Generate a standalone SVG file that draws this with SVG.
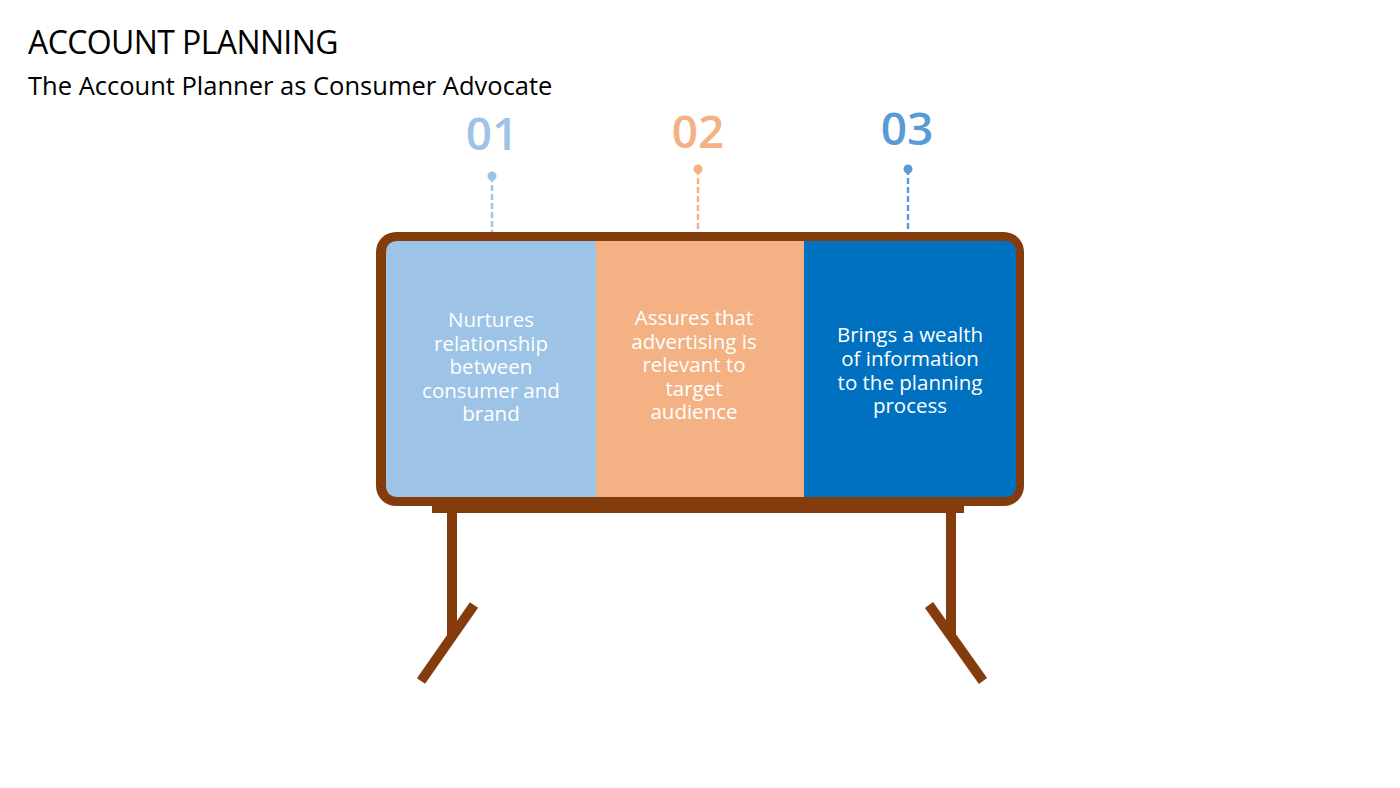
<svg xmlns="http://www.w3.org/2000/svg" width="1400" height="788" viewBox="0 0 1400 788">
<style>
text{font-family:"Open Sans","Liberation Sans",sans-serif}
.num{font-size:46px;font-weight:600;text-anchor:middle}
.body{font-size:20.5px;fill:#fff;text-anchor:middle}
.leg{stroke:#843C0C;stroke-width:10;fill:none}
</style>
<rect width="1400" height="788" fill="#fff"/>
<text x="28" y="54" font-size="32" fill="#000" letter-spacing="-0.6">ACCOUNT PLANNING</text>
<text x="28" y="95" font-size="25.5" fill="#000">The Account Planner as Consumer Advocate</text>
<g id="stand">
<rect x="432" y="498" width="532" height="15" fill="#843C0C"/>
<line class="leg" x1="452" y1="505" x2="452" y2="638"/>
<line class="leg" x1="474" y1="605" x2="421" y2="681"/>
<line class="leg" x1="951" y1="505" x2="951" y2="638"/>
<line class="leg" x1="929" y1="605" x2="983" y2="681"/>
<rect x="376" y="232" width="648" height="274" rx="20" fill="#843C0C"/>
</g>
<g id="node1">
<path d="M398 241H596V497H398Q386 497 386 485V253Q386 241 398 241Z" fill="#9DC3E6"/>
<text class="body"><tspan x="491" y="327">Nurtures</tspan><tspan x="491" y="351">relationship</tspan><tspan x="491" y="374">between</tspan><tspan x="491" y="398">consumer and</tspan><tspan x="491" y="421">brand</tspan></text>
<text class="num" x="492" y="150" fill="#9DC3E6">01</text>
</g>
<g id="node2">
<rect x="596" y="241" width="208" height="256" fill="#F4B183"/>
<text class="body"><tspan x="694" y="325">Assures that</tspan><tspan x="694" y="349">advertising is</tspan><tspan x="694" y="372">relevant to</tspan><tspan x="694" y="396">target</tspan><tspan x="694" y="419">audience</tspan></text>
<text class="num" x="698" y="148" fill="#F4B183">02</text>
</g>
<g id="node3">
<path d="M804 241H1004Q1016 241 1016 253V485Q1016 497 1004 497H804Z" fill="#0070C0"/>
<text class="body"><tspan x="910" y="342">Brings a wealth</tspan><tspan x="910" y="366">of information</tspan><tspan x="910" y="390">to the planning</tspan><tspan x="910" y="413">process</tspan></text>
<text class="num" x="907" y="145" fill="#5B9BD5">03</text>
</g>
<g id="connectors" stroke-width="2.5" stroke-dasharray="6,3">
<line x1="492" y1="176" x2="492" y2="232" stroke="#9DC3E6"/>
<line x1="698" y1="169" x2="698" y2="232" stroke="#F4B183"/>
<line x1="908" y1="169" x2="908" y2="232" stroke="#5B9BD5"/>
<circle cx="492" cy="176" r="4.5" fill="#9DC3E6" stroke="none"/>
<circle cx="698" cy="169" r="4.5" fill="#F4B183" stroke="none"/>
<circle cx="908" cy="169" r="4.5" fill="#5B9BD5" stroke="none"/>
</g>
</svg>
